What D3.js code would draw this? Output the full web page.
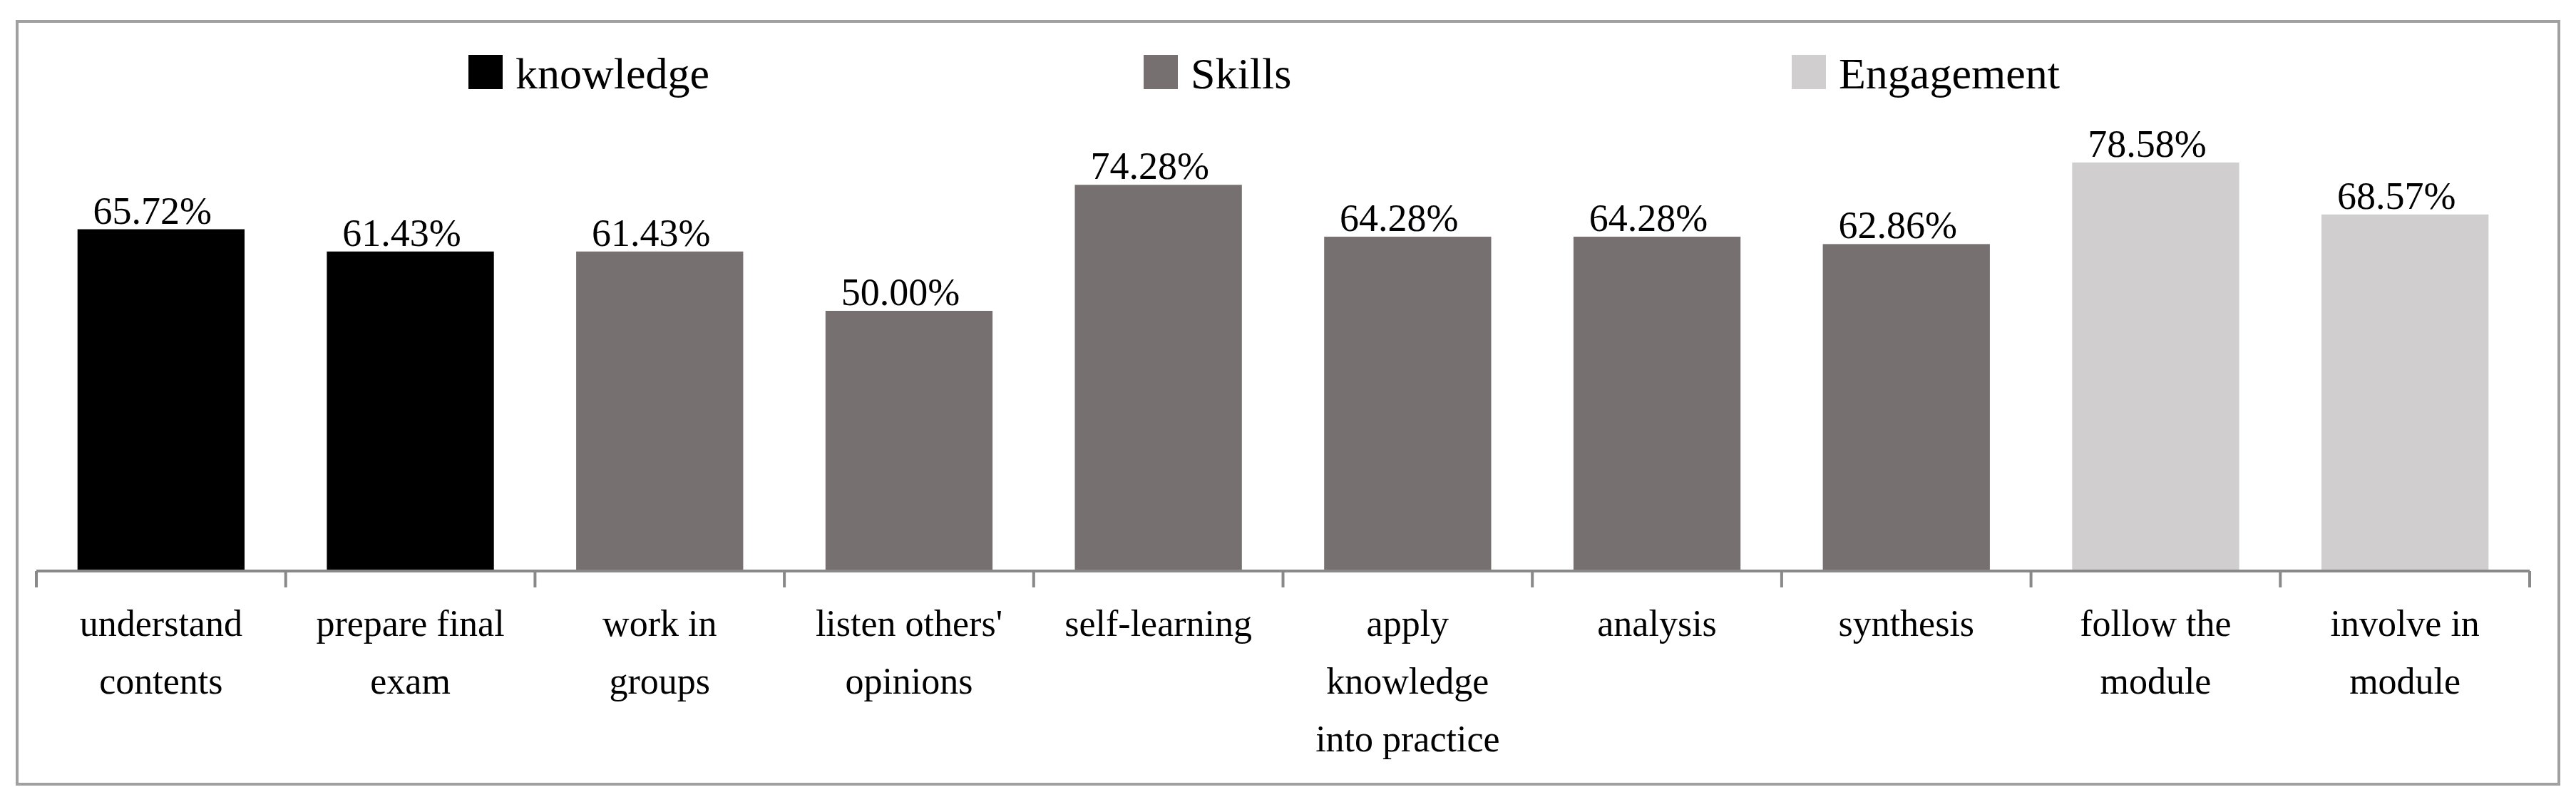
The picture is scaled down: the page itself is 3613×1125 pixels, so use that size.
<!DOCTYPE html>
<html><head><meta charset="utf-8">
<script src="https://cdn.jsdelivr.net/npm/d3@7"></script>
<style>body{margin:0;background:#fff}svg{display:block}</style>
</head><body><div id="chart"></div>
<script>
const categories = [['understand','contents'],['prepare final','exam'],['work in','groups'],['listen others\'','opinions'],['self-learning'],['apply','knowledge','into practice'],['analysis'],['synthesis'],['follow the','module'],['involve in','module']]
const values = [65.72, 61.43, 61.43, 50.00, 74.28, 64.28, 64.28, 62.86, 78.58, 68.57]
const groups = ['knowledge','knowledge','Skills','Skills','Skills','Skills','Skills','Skills','Engagement','Engagement']
const seriesNames = ['knowledge','Skills','Engagement']
const colors = ['#000000','#767170','#d0cecf']

const W = 3613, H = 1125
const font = '"Liberation Serif", "DejaVu Serif", serif'
const svg = d3.select('#chart').append('svg').attr('width', W).attr('height', H)

svg.append('rect').attr('x', 24).attr('y', 30).attr('width', 3565).attr('height', 1070)
  .attr('fill', 'none').attr('stroke', '#a0a0a0').attr('stroke-width', 4)

const x = d3.scaleBand().domain(d3.range(values.length)).range([51, 3548]).paddingInner(0.33).paddingOuter(0.165)
const xTick = d3.scaleLinear().domain([0, values.length]).range([51, 3548])
const y = d3.scaleLinear().domain([0, 100]).range([800, 72])
const color = d3.scaleOrdinal().domain(seriesNames).range(colors)

svg.selectAll('rect.bar').data(values).enter().append('rect').attr('class', 'bar')
  .attr('x', (d, i) => x(i)).attr('width', x.bandwidth())
  .attr('y', d => y(d)).attr('height', d => y(0) - y(d))
  .attr('fill', (d, i) => color(groups[i]))

svg.selectAll('text.val').data(values).enter().append('text').attr('class', 'val')
  .attr('x', (d, i) => x(i) + x.bandwidth() / 2 - 12).attr('y', d => y(d) - 8)
  .attr('text-anchor', 'middle').attr('font-family', font).attr('font-size', 54)
  .text(d => d.toFixed(2) + '%')

// axis
const ax = svg.append('g').attr('stroke', '#898989').attr('stroke-width', 4)
ax.append('line').attr('x1', 51).attr('x2', 3548).attr('y1', 801).attr('y2', 801)
ax.selectAll('line.t').data(d3.range(values.length + 1)).enter().append('line').attr('class', 't')
  .attr('x1', d => xTick(d)).attr('x2', d => xTick(d)).attr('y1', 801).attr('y2', 824)

const lab = svg.selectAll('text.cat').data(categories).enter().append('text').attr('class', 'cat')
  .attr('text-anchor', 'middle').attr('font-family', font).attr('font-size', 52)
lab.selectAll('tspan').data((d, i) => d.map(t => [t, i])).enter().append('tspan')
  .attr('x', d => x(d[1]) + x.bandwidth() / 2).attr('y', (d, j) => 892 + j * 81).text(d => d[0])

// legend
const legX = [657, 1604, 2513]
const leg = svg.selectAll('g.leg').data(seriesNames).enter().append('g').attr('class', 'leg')
  .attr('transform', (d, i) => `translate(${legX[i]},0)`)
leg.append('rect').attr('y', 77).attr('width', 48).attr('height', 48).attr('fill', d => color(d))
leg.append('text').attr('x', 66).attr('y', 124).attr('font-family', font).attr('font-size', 62).text(d => d)
</script></body></html>
